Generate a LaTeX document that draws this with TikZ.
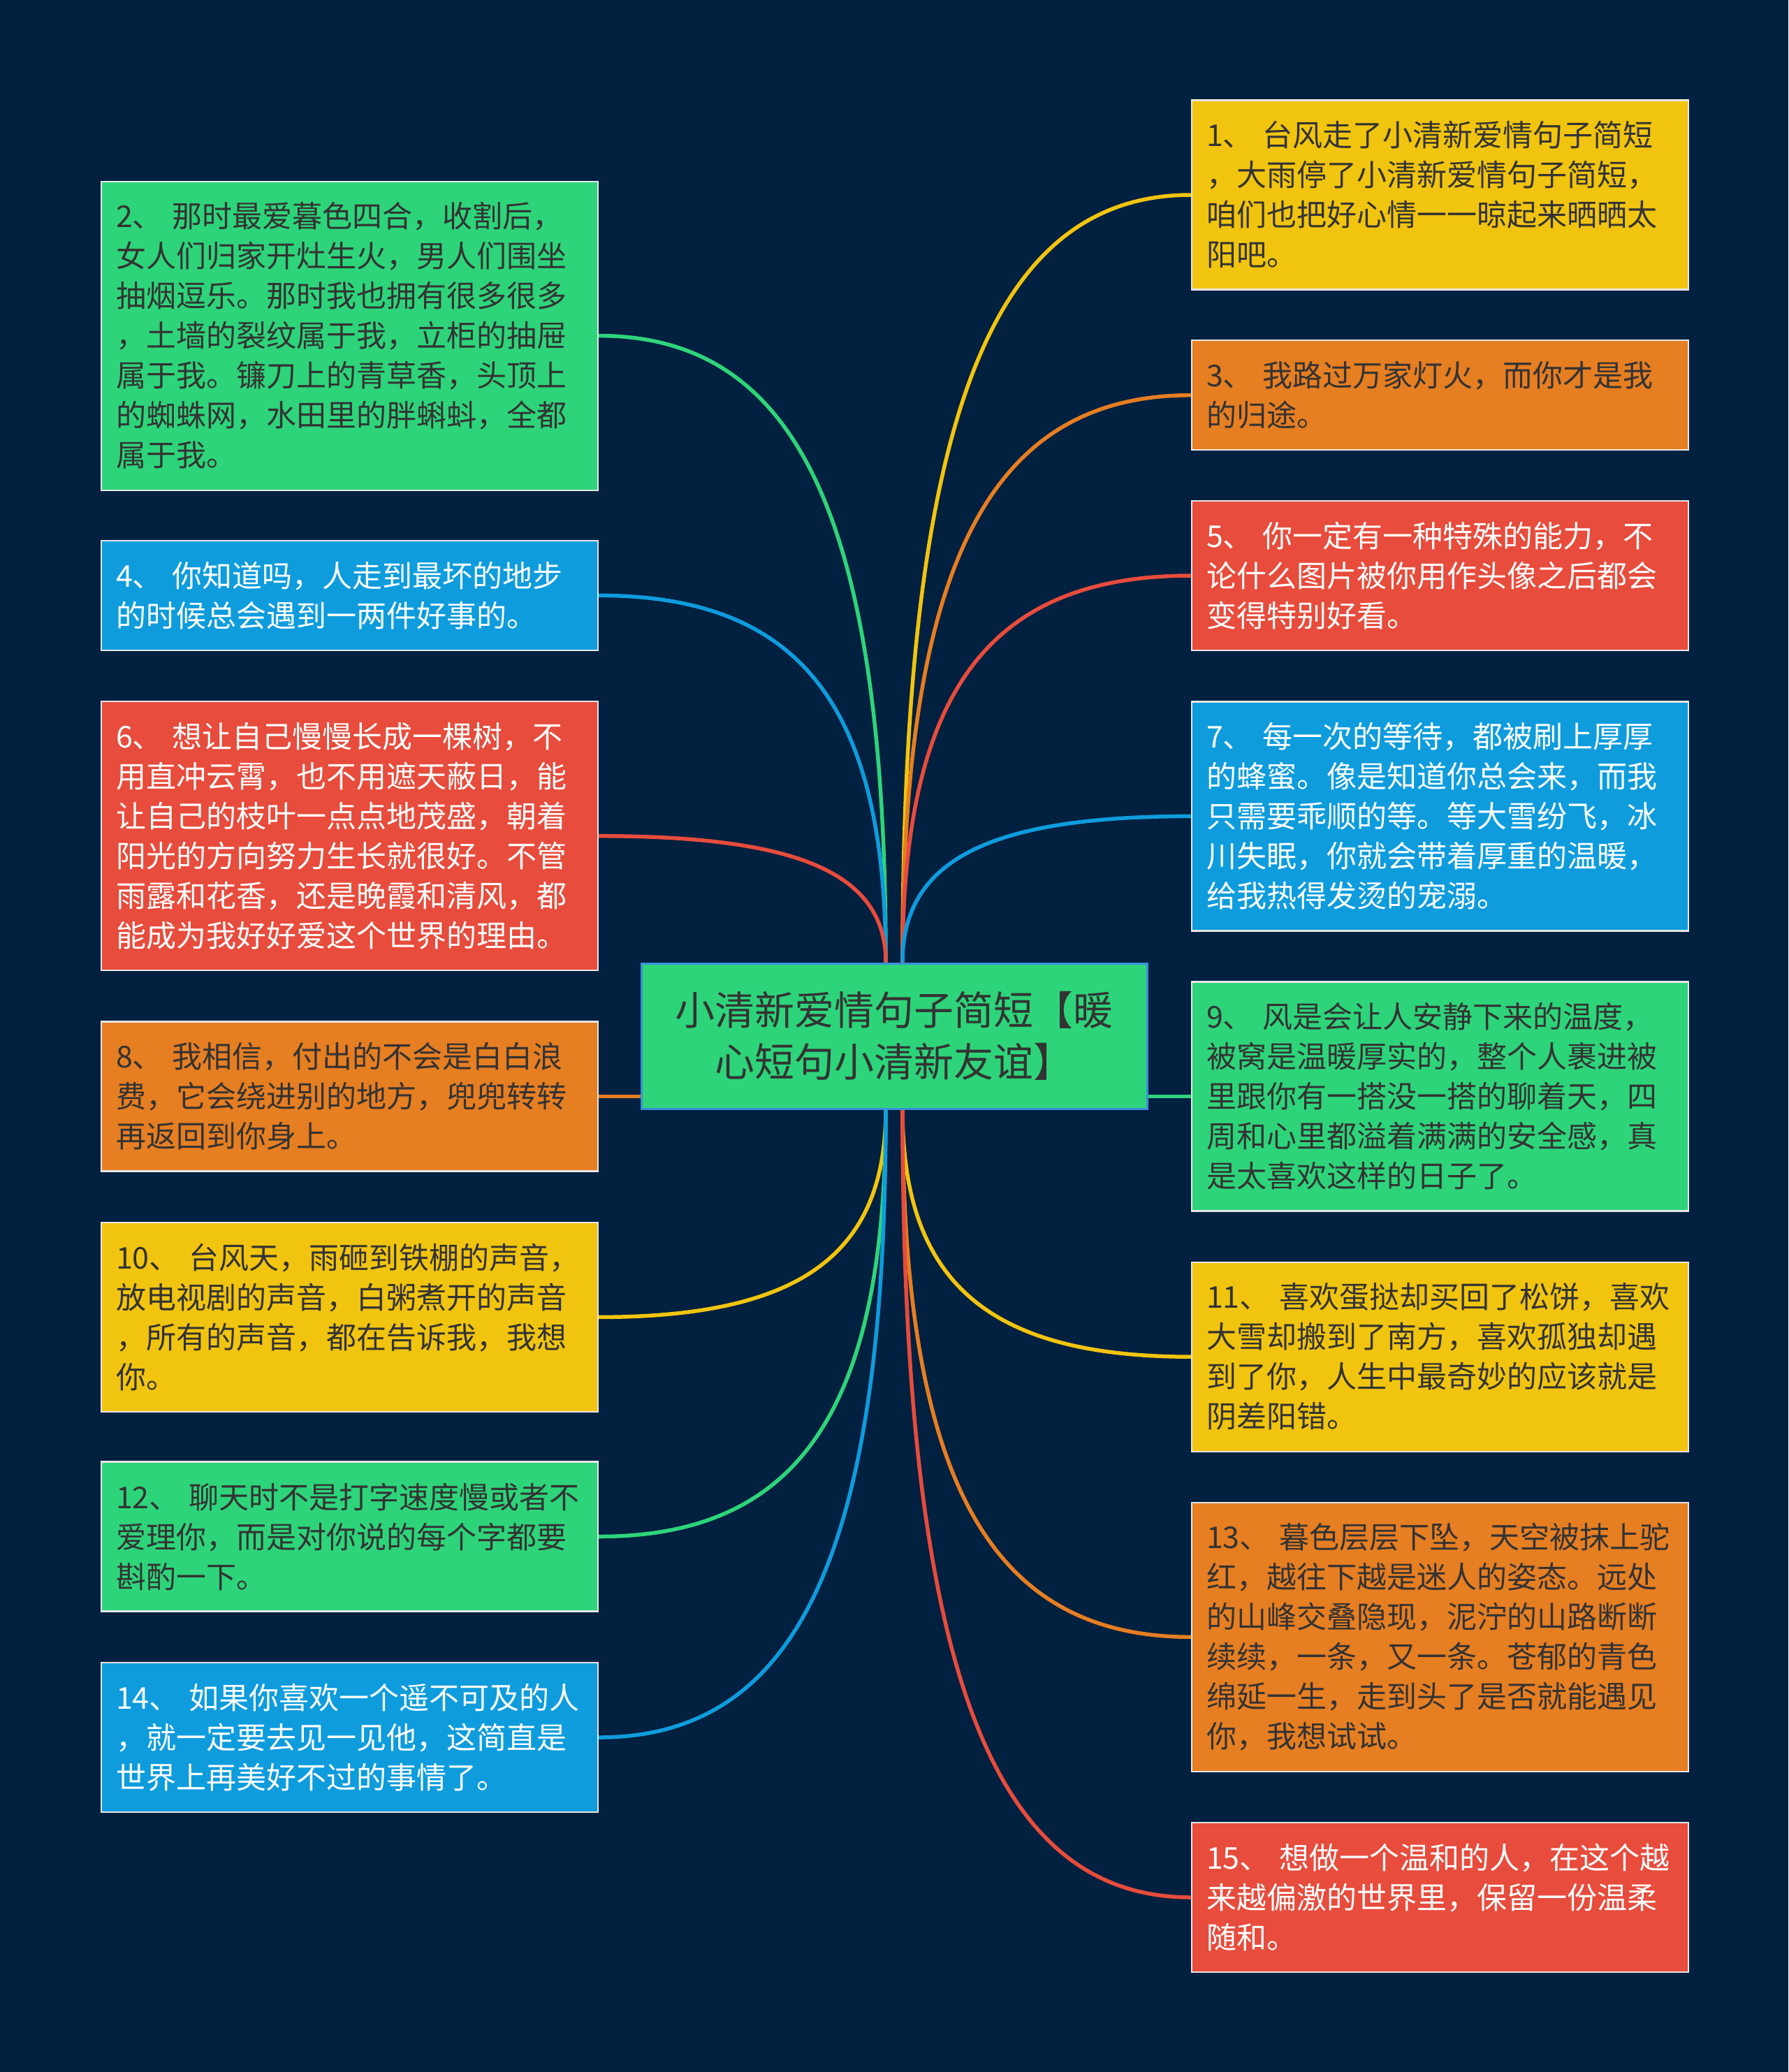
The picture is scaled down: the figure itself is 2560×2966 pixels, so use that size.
\documentclass[tikz,border=0pt]{standalone}
\usepackage{fontspec}
\setmainfont{Noto Sans CJK SC}
\usetikzlibrary{calc}
\pgfdeclarelayer{bg}
\pgfsetlayers{bg,main}
\definecolor{bgc}{HTML}{02203F}
\definecolor{grn}{HTML}{2ED47A}
\definecolor{yel}{HTML}{F1C40F}
\definecolor{org}{HTML}{E67E22}
\definecolor{red1}{HTML}{E74C3C}
\definecolor{blu}{HTML}{0E9CDD}
\definecolor{dtext}{HTML}{333333}
\definecolor{boxline}{HTML}{E6E6E6}
\definecolor{cline}{HTML}{3A8EDB}
\newcommand{\gapx}{\kern14pt}
% curve from start coordinate #1 to anchor #2 (quadratic-like)
\newcommand{\curv}[3]{%
  \draw[conn=#3] (#1) .. controls ($(#1)!0.7!(#1 |- #2)$) and ($(#2)!0.7!(#1 |- #2)$) .. (#2);}
\tikzset{
  box/.style={draw=boxline, line width=2.2pt, rectangle, minimum width=711pt,
    text width=669pt, inner xsep=21pt, inner ysep=0pt, align=left, anchor=west,
    font=\fontsize{43pt}{57pt}\selectfont},
  dk/.style={text=dtext},
  wt/.style={text=white},
  conn/.style={line width=5.5pt, draw=#1},
}
\begin{document}
\begin{tikzpicture}[x=1pt,y=-1pt]
\useasboundingbox (0,0) rectangle (2560,2966);
\begin{pgfonlayer}{bg}
\fill[bgc] (0,0) rectangle (2560,2966);
\end{pgfonlayer}

% center
\node[draw=cline, line width=3pt, fill=grn, text=dtext, minimum width=724pt,
  minimum height=208pt, text width=690pt, align=center, inner sep=0pt,
  font=\fontsize{57pt}{74pt}\selectfont] (c) at (1280,1483)
  {小清新爱情句子简短【暖\\心短句小清新友谊】};

% left boxes
\node[box, fill=grn, dk, minimum height=442pt] (b2) at (144,480.6)
 {2、\gapx 那时最爱暮色四合，收割后，\\女人们归家开灶生火，男人们围坐\\抽烟逗乐。那时我也拥有很多很多\\，土墙的裂纹属于我，立柜的抽屉\\属于我。镰刀上的青草香，头顶上\\的蜘蛛网，水田里的胖蝌蚪，全都\\属于我。};
\node[box, fill=blu, wt, minimum height=157pt] (b4) at (144,852.4)
 {4、\gapx 你知道吗，人走到最坏的地步\\的时候总会遇到一两件好事的。};
\node[box, fill=red1, wt, minimum height=385pt] (b6) at (144,1196.7)
 {6、\gapx 想让自己慢慢长成一棵树，不\\用直冲云霄，也不用遮天蔽日，能\\让自己的枝叶一点点地茂盛，朝着\\阳光的方向努力生长就很好。不管\\雨露和花香，还是晚霞和清风，都\\能成为我好好爱这个世界的理由。};
\node[box, fill=org, dk, minimum height=214pt] (b8) at (144,1569.4)
 {8、\gapx 我相信，付出的不会是白白浪\\费，它会绕进别的地方，兜兜转转\\再返回到你身上。};
\node[box, fill=yel, dk, minimum height=271pt] (b10) at (144,1885.4)
 {10、\gapx 台风天，雨砸到铁棚的声音，\\放电视剧的声音，白粥煮开的声音\\，所有的声音，都在告诉我，我想\\你。};
\node[box, fill=grn, dk, minimum height=214pt] (b12) at (144,2199.5)
 {12、\gapx 聊天时不是打字速度慢或者不\\爱理你，而是对你说的每个字都要\\斟酌一下。};
\node[box, fill=blu, wt, minimum height=214pt] (b14) at (144,2487)
 {14、\gapx 如果你喜欢一个遥不可及的人\\，就一定要去见一见他，这简直是\\世界上再美好不过的事情了。};

% right boxes
\node[box, fill=yel, dk, minimum height=271pt] (b1) at (1705,279)
 {1、\gapx 台风走了小清新爱情句子简短\\，大雨停了小清新爱情句子简短，\\咱们也把好心情一一晾起来晒晒太\\阳吧。};
\node[box, fill=org, dk, minimum height=157pt] (b3) at (1705,565.7)
 {3、\gapx 我路过万家灯火，而你才是我\\的归途。};
\node[box, fill=red1, wt, minimum height=214pt] (b5) at (1705,824)
 {5、\gapx 你一定有一种特殊的能力，不\\论什么图片被你用作头像之后都会\\变得特别好看。};
\node[box, fill=blu, wt, minimum height=328pt] (b7) at (1705,1168.4)
 {7、\gapx 每一次的等待，都被刷上厚厚\\的蜂蜜。像是知道你总会来，而我\\只需要乖顺的等。等大雪纷飞，冰\\川失眠，你就会带着厚重的温暖，\\给我热得发烫的宠溺。};
\node[box, fill=grn, dk, minimum height=328pt] (b9) at (1705,1569.4)
 {9、\gapx 风是会让人安静下来的温度，\\被窝是温暖厚实的，整个人裹进被\\里跟你有一搭没一搭的聊着天，四\\周和心里都溢着满满的安全感，真\\是太喜欢这样的日子了。};
\node[box, fill=yel, dk, minimum height=271pt] (b11) at (1705,1942.2)
 {11、\gapx 喜欢蛋挞却买回了松饼，喜欢\\大雪却搬到了南方，喜欢孤独却遇\\到了你，人生中最奇妙的应该就是\\阴差阳错。};
\node[box, fill=org, dk, minimum height=385pt] (b13) at (1705,2343.3)
 {13、\gapx 暮色层层下坠，天空被抹上驼\\红，越往下越是迷人的姿态。远处\\的山峰交叠隐现，泥泞的山路断断\\续续，一条，又一条。苍郁的青色\\绵延一生，走到头了是否就能遇见\\你，我想试试。};
\node[box, fill=red1, wt, minimum height=214pt] (b15) at (1705,2716)
 {15、\gapx 想做一个温和的人，在这个越\\来越偏激的世界里，保留一份温柔\\随和。};

% connector start points on the central node
\coordinate (tl) at ($(c.north)+(-12,0)$);
\coordinate (tr) at ($(c.north)+(12,0)$);
\coordinate (bl) at ($(c.south)+(-12,0)$);
\coordinate (br) at ($(c.south)+(12,0)$);

% connectors
\begin{pgfonlayer}{bg}
\curv{tl}{b2.east}{grn}
\curv{tl}{b4.east}{blu}
\curv{tl}{b6.east}{red1}
\curv{tr}{b1.west}{yel}
\curv{tr}{b3.west}{org}
\curv{tr}{b5.west}{red1}
\curv{tr}{b7.west}{blu}
\draw[conn=org] (b8.east) -- (c.west |- b8.east);
\draw[conn=grn] (c.east |- b9.west) -- (b9.west);
\curv{bl}{b10.east}{yel}
\curv{bl}{b12.east}{grn}
\curv{bl}{b14.east}{blu}
\curv{br}{b11.west}{yel}
\curv{br}{b13.west}{org}
\curv{br}{b15.west}{red1}
\end{pgfonlayer}
\end{tikzpicture}
\end{document}
